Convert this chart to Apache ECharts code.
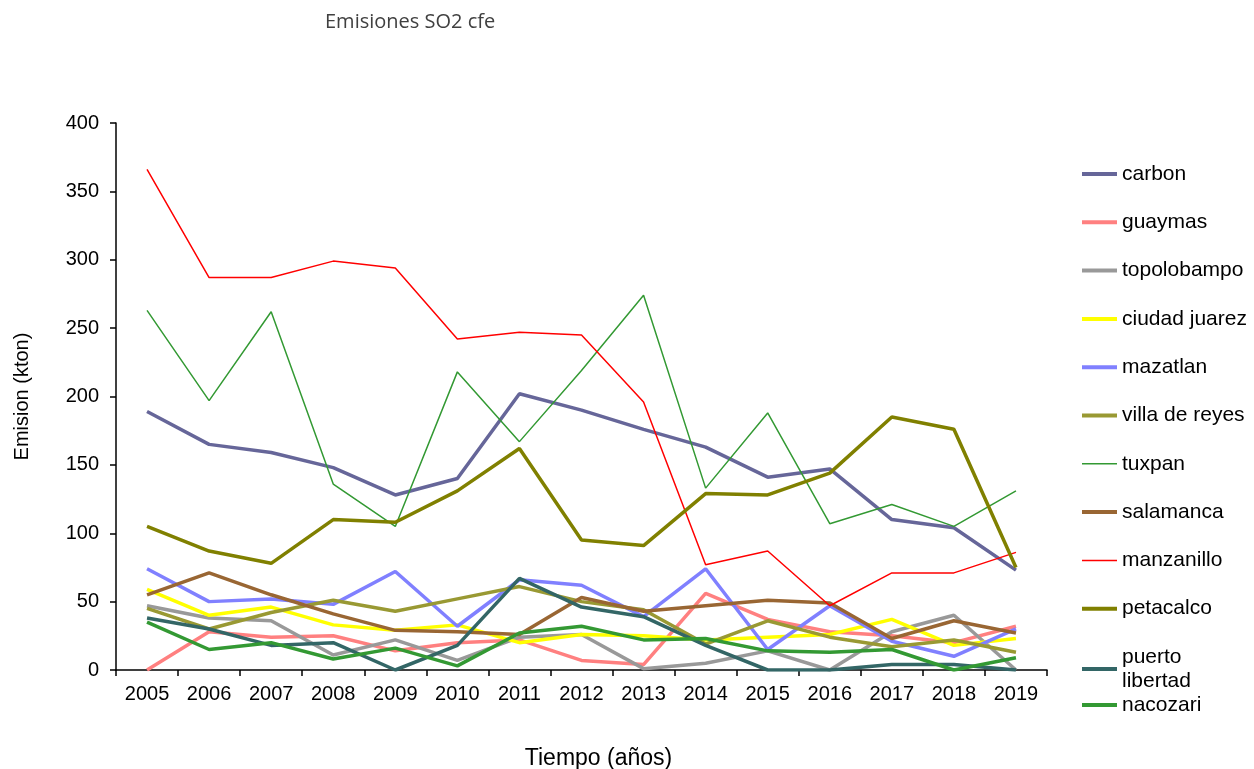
<!DOCTYPE html>
<html>
<head>
<meta charset="utf-8">
<script src="https://cdn.jsdelivr.net/npm/echarts@6/dist/echarts.min.js"></script>
<style>
  html, body { margin: 0; padding: 0; background: #fff; }
  #chart { width: 1254px; height: 769px; }
</style>
</head>
<body>
<div id="chart"></div>
<script>
// 年份（类目轴）
var years = ['2005', '2006', '2007', '2008', '2009', '2010', '2011', '2012', '2013', '2014', '2015', '2016', '2017', '2018', '2019'];

// 各电厂 SO2 排放 (kton)
var carbon = [189, 165, 159, 148, 128, 140, 202, 190, 176, 163, 141, 147, 110, 104, 73];
var guaymas = [0, 28, 24, 25, 14, 20, 22, 7, 4, 56, 37, 28, 25, 20, 32];
var topolobampo = [47, 38, 36, 11, 22, 7, 24, 26, 1, 5, 14, 0, 28, 40, 0];
var ciudadJuarez = [59, 40, 46, 33, 29, 33, 20, 26, 25, 22, 24, 26, 37, 18, 23];
var mazatlan = [74, 50, 52, 48, 72, 32, 66, 62, 39, 74, 15, 47, 21, 10, 30];
var villaDeReyes = [45, 30, 42, 51, 43, 52, 61, 50, 44, 19, 36, 24, 17, 22, 13];
var tuxpan = [263, 197, 262, 136, 105, 218, 167, 219, 274, 133, 188, 107, 121, 105, 131];
var salamanca = [55, 71, 55, 41, 29, 28, 26, 53, 43, 47, 51, 49, 23, 36, 27];
var manzanillo = [366, 287, 287, 299, 294, 242, 247, 245, 196, 77, 87, 47, 71, 71, 86];
var petacalco = [105, 87, 78, 110, 108, 131, 162, 95, 91, 129, 128, 144, 185, 176, 75];
var puertoLibertad = [38, 30, 18, 20, 0, 18, 67, 46, 39, 18, 0, 0, 4, 4, 0];
var nacozari = [35, 15, 20, 8, 16, 3, 27, 32, 22, 23, 14, 13, 15, 0, 9];

var font = 'Liberation Sans, Arial, sans-serif';

// 图例图标：粗线 / 细线（细线用极小的角点撑开包围盒）
var thickIcon = 'rect';
var thinIcon = 'path://M0,1.3h35v1.5H0z M0,0h0.01v0.01H0z M34.99,3.99h0.01v0.01h-0.01z';

// 生成一条折线系列
function line(name, data, color, width) {
    return {
        name: name,
        type: 'line',
        data: data,
        symbol: 'none',
        lineStyle: { color: color, width: width },
        itemStyle: { color: color }
    };
}

var chart = echarts.init(document.getElementById('chart'));

var legendText = { fontFamily: font, fontSize: 21, color: '#000', lineHeight: 24 };

var option = {
    backgroundColor: '#fff',
    animation: false,
    title: {
        text: 'Emisiones SO2 cfe',
        left: 325,
        top: 12,
        padding: 0,
        textStyle: { fontFamily: 'Open Sans, sans-serif', fontSize: 20, fontWeight: 'normal', color: '#404040' }
    },
    legend: [{
        orient: 'vertical',
        left: 1077,
        top: 157,
        itemWidth: 35,
        itemHeight: 4,
        itemGap: 24.3,
        icon: thickIcon,
        textStyle: legendText,
        data: ['carbon', 'guaymas', 'topolobampo', 'ciudad juarez', 'mazatlan',
               'villa de reyes', { name: 'tuxpan', icon: thinIcon }, 'salamanca',
               { name: 'manzanillo', icon: thinIcon }, 'petacalco']
    }, {
        orient: 'vertical',
        left: 1077,
        top: 640,
        itemWidth: 35,
        itemHeight: 4,
        itemGap: 0,
        icon: thickIcon,
        textStyle: legendText,
        formatter: function (name) {
            return name === 'puerto libertad' ? 'puerto\nlibertad' : name;
        },
        data: ['puerto libertad', 'nacozari']
    }],
    grid: { left: 116, right: 207, top: 123, bottom: 99, outerBoundsMode: 'none', containLabel: false },
    xAxis: {
        type: 'category',
        data: years,
        boundaryGap: true,
        name: 'Tiempo (años)',
        nameLocation: 'middle',
        nameGap: 77,
        nameTextStyle: { fontFamily: font, fontSize: 23, color: '#000', padding: [0, 0, 0, 34] },
        axisLine: { lineStyle: { color: '#000', width: 1.5 } },
        axisTick: { show: true, length: 6, lineStyle: { color: '#000', width: 1.5 } },
        axisLabel: { fontFamily: font, fontSize: 20, color: '#000', margin: 14 }
    },
    yAxis: {
        type: 'value',
        min: 0,
        max: 400,
        interval: 50,
        name: 'Emision (kton)',
        nameLocation: 'middle',
        nameGap: 84,
        nameRotate: 90,
        nameTextStyle: { fontFamily: font, fontSize: 20, color: '#000' },
        axisLine: { show: true, lineStyle: { color: '#000', width: 1.5 } },
        axisTick: { show: true, length: 6, lineStyle: { color: '#000', width: 1.5 } },
        axisLabel: { fontFamily: font, fontSize: 20, color: '#000', margin: 17 },
        splitLine: { show: false }
    },
    series: [
        line('carbon', carbon, '#666699', 3.5),
        line('guaymas', guaymas, '#FF8080', 3.5),
        line('topolobampo', topolobampo, '#999999', 3.5),
        line('ciudad juarez', ciudadJuarez, '#FFFF00', 3.5),
        line('mazatlan', mazatlan, '#8080FF', 3.5),
        line('villa de reyes', villaDeReyes, '#999933', 3.5),
        line('tuxpan', tuxpan, '#339933', 1.5),
        line('salamanca', salamanca, '#996633', 3.5),
        line('manzanillo', manzanillo, '#FF0000', 1.5),
        line('petacalco', petacalco, '#808000', 3.5),
        line('puerto libertad', puertoLibertad, '#336666', 3.5),
        line('nacozari', nacozari, '#339933', 3.5)
    ]
};

chart.setOption(option);
</script>
</body>
</html>
